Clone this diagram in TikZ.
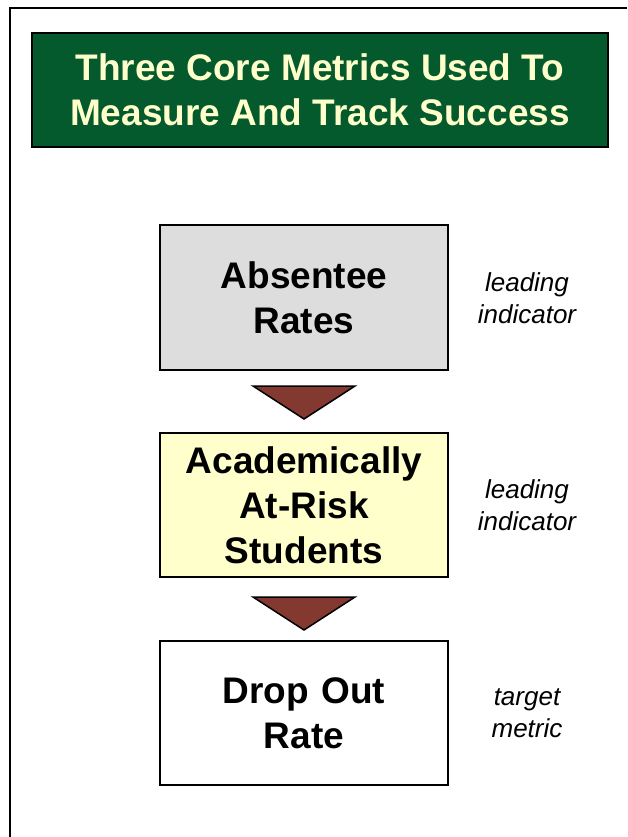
\documentclass[tikz,border=0pt]{standalone}
\usepackage{fontspec}
\setmainfont{Liberation Sans}
\usetikzlibrary{calc}
\definecolor{titlegreen}{RGB}{4,90,45}
\definecolor{titletext}{RGB}{255,255,204}
\definecolor{boxgrey}{RGB}{221,221,221}
\definecolor{boxyellow}{RGB}{255,255,204}
\definecolor{tribrown}{RGB}{131,56,48}
\tikzset{
  metricbox/.style={draw=black, line width=2pt, rectangle, minimum width=288pt, minimum height=145pt, text width=280pt, align=center, inner sep=0pt, font=\fontsize{37}{45}\selectfont\bfseries},
  sidelabel/.style={align=center, inner sep=0pt, font=\fontsize{26}{32}\selectfont\itshape},
  tri/.style={draw=black, line width=1.5pt, fill=tribrown, line join=miter},
  frameline/.style={draw=black, line width=2pt}
}
\begin{document}
\begin{tikzpicture}[x=1pt, y=-1pt]
\useasboundingbox (0,0) rectangle (627,837);
\fill[white] (0,0) rectangle (627,837);
\coordinate (fbl) at (10,837);
\coordinate (ftl) at (10,8);
\coordinate (ftr) at (627,8);
\draw[frameline] (fbl) -- (ftl) -- (ftr);
\node[draw=black, line width=2pt, fill=titlegreen, text=titletext, minimum width=576pt, minimum height=114pt, align=center, inner sep=0pt, font=\fontsize{37}{45}\selectfont\bfseries] (title) at (320,90) {Three Core Metrics Used To\\Measure And Track Success};
\node[metricbox, fill=boxgrey] (b1) at (304,297.5) {Absentee\\Rates};
\node[metricbox, fill=boxyellow, minimum height=144pt] (b2) at (304,505) {Academically\\At-Risk\\Students};
\node[metricbox, fill=white, minimum height=144pt] (b3) at (304,713) {Drop Out\\Rate};
\draw[tri] ($(b1.south)+(-51,15)$) -- ($(b1.south)+(51,15)$) -- ($(b1.south)+(0,48)$) -- cycle;
\draw[tri] ($(b2.south)+(-51,19)$) -- ($(b2.south)+(51,19)$) -- ($(b2.south)+(0,52)$) -- cycle;
\node[sidelabel] (l1) at (527,298) {leading\\indicator};
\node[sidelabel] (l2) at (527,505) {leading\\indicator};
\node[sidelabel] (l3) at (527,713) {target\\metric};
\end{tikzpicture}
\end{document}
